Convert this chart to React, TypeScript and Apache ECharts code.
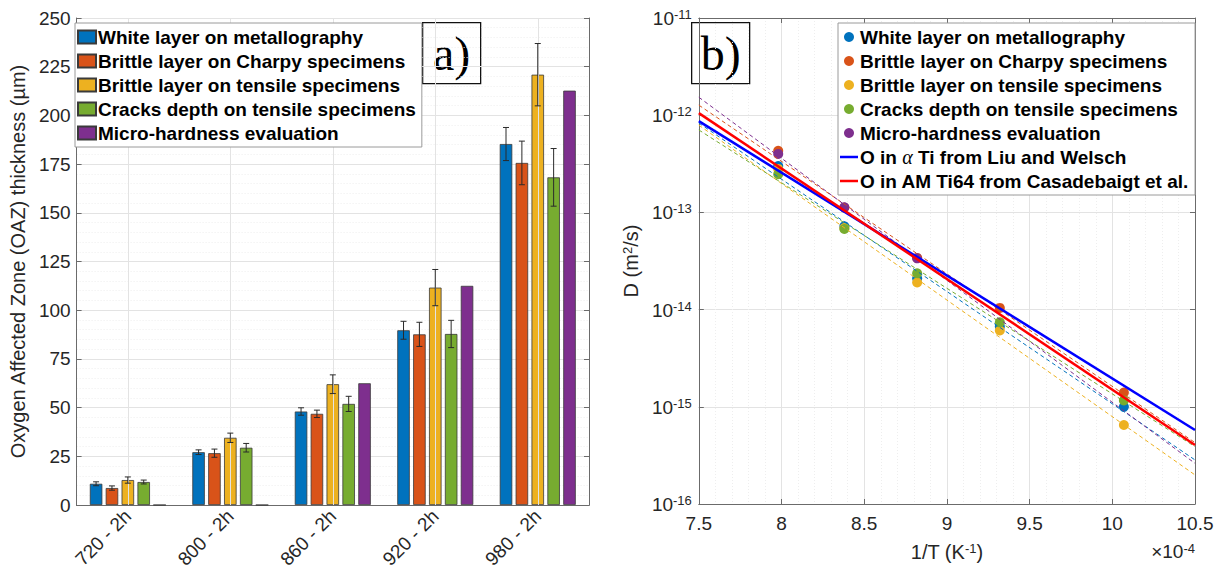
import React, { useEffect, useRef } from "react";
import * as echarts from "echarts";

// ---------- Panel a) data ----------
const categories = ["720 - 2h", "800 - 2h", "860 - 2h", "920 - 2h", "980 - 2h"];
const seriesNames = [
  "White layer on metallography",
  "Brittle layer on Charpy specimens",
  "Brittle layer on tensile specimens",
  "Cracks depth on tensile specimens",
  "Micro-hardness evaluation",
];
const seriesColors = ["#0072BD", "#D95319", "#EDB120", "#77AC30", "#7E2F8E"];
const whiteLayer = [10.9, 27.1, 48.0, 89.7, 185.3];
const whiteLayerErr = [1.0, 1.2, 1.9, 4.6, 8.5];
const charpyLayer = [8.7, 26.6, 46.8, 87.6, 175.6];
const charpyLayerErr = [1.1, 2.1, 1.9, 6.2, 11.2];
const tensileLayer = [12.8, 34.5, 62.0, 111.6, 220.9];
const tensileLayerErr = [1.6, 2.4, 4.8, 9.3, 16.0];
const cracksDepth = [11.8, 29.4, 51.9, 87.8, 168.2];
const cracksDepthErr = [1.0, 2.2, 3.9, 7.0, 14.8];
const microHardness = [0, 0, 62.5, 112.5, 212.7];
const microHardnessErr = [0, 0, 0, 0, 0];
const yTicksA = [0, 250, 25];

// ---------- Panel b) data ----------
const invT = [7.98, 8.38, 8.82, 9.32, 10.07]; // 1/T ×10^-4 K^-1
const dWhite = [3.0e-13, 7.2e-14, 2.1e-14, 6.7e-15, 1.0e-15];
const dCharpy = [4.3e-13, 1.12e-13, 3.4e-14, 1.04e-14, 1.4e-15];
const dTensile = [2.8e-13, 6.9e-14, 1.9e-14, 6.1e-15, 6.5e-16];
const dCracks = [2.47e-13, 6.75e-14, 2.36e-14, 7.4e-15, 1.16e-15];
const invTMicro = [7.98, 8.38, 8.82];
const dMicro = [4.0e-13, 1.13e-13, 3.37e-14];
const fitX = [7.5, 10.5];
const fitWhite = [8.3e-13, 2.84e-16];
const fitCharpy = [1.27e-12, 4.28e-16];
const fitTensile = [7.9e-13, 1.99e-16];
const fitCracks = [7.05e-13, 3.89e-16];
const fitMicro = [1.53e-12, 2.62e-16];
const liuWelsch = [8.7e-13, 5.77e-16];
const casadebaigt = [1.05e-12, 4.05e-16];
const lineNames = ["O in α Ti from Liu and Welsch", "O in AM Ti64 from Casadebaigt et al."];

const FONT = "'Liberation Sans', Arial, Helvetica, sans-serif";
const TXT = "#262626";
const AXIS = "#6b6b6b";
const GRID = "#e3e3e3";
const MINOR = "#eeeeee";

const BAR_W = 12.5;
const BAR_GAP = 0.27;
const BAR_STEP = BAR_W * (1 + BAR_GAP);

function errorSeries(values: number[], errs: number[], idx: number) {
  return {
    type: "custom",
    xAxisIndex: 0,
    yAxisIndex: 0,
    z: 6,
    silent: true,
    encode: { x: 0, y: 1 },
    data: values.map((v, i) => [i, v, errs[i]]),
    renderItem: (params: any, api: any) => {
      const ci = api.value(0);
      const v = api.value(1);
      const e = api.value(2);
      if (!e) return { type: "group", children: [] };
      const x = api.coord([ci, v])[0] + (idx - 2) * BAR_STEP;
      const yt = api.coord([ci, v + e])[1];
      const yb = api.coord([ci, v - e])[1];
      const style = { stroke: "#2a2a2a", lineWidth: 1 };
      return {
        type: "group",
        children: [
          { type: "line", shape: { x1: x, y1: yt, x2: x, y2: yb }, style },
          { type: "line", shape: { x1: x - 3, y1: yt, x2: x + 3, y2: yt }, style },
          { type: "line", shape: { x1: x - 3, y1: yb, x2: x + 3, y2: yb }, style },
        ],
      };
    },
  };
}

function labelBox(x: number, text: string) {
  return {
    type: "group",
    left: x,
    top: 22,
    z: 20,
    children: [
      {
        type: "rect",
        shape: { x: 0, y: 0, width: 58, height: 61 },
        style: { fill: "#fff", stroke: "#111", lineWidth: 1.3 },
      },
      {
        type: "text",
        x: 29,
        y: 31,
        style: {
          text,
          fontFamily: "'Liberation Serif', 'Times New Roman', serif",
          fontSize: 48,
          fill: "#000",
          align: "center",
          verticalAlign: "middle",
        },
      },
    ],
  };
}

function optionA() {
  const vals = [whiteLayer, charpyLayer, tensileLayer, cracksDepth, microHardness];
  const errs = [whiteLayerErr, charpyLayerErr, tensileLayerErr, cracksDepthErr, microHardnessErr];
  const bars = vals.map((v, i) => ({
    type: "bar",
    name: seriesNames[i],
    data: v,
    barWidth: BAR_W,
    barGap: `${BAR_GAP * 100}%`,
    z: 3,
    itemStyle: { color: seriesColors[i], borderColor: "#3a3a3a", borderWidth: 0.8 },
  }));
  const errSeries = vals.map((v, i) => errorSeries(v, errs[i], i));
  const centerLines = {
    type: "line",
    data: [],
    z: 1,
    silent: true,
    markLine: {
      silent: true,
      symbol: "none",
      label: { show: false },
      lineStyle: { color: GRID, width: 1, type: "solid" },
      data: categories.map((c) => ({ xAxis: c })),
    },
  };
  const yAxisBase = {
    type: "value",
    min: yTicksA[0],
    max: yTicksA[1],
    interval: yTicksA[2],
  };
  return {
    animation: false,
    textStyle: { fontFamily: FONT },
    grid: { left: 69, top: 18, width: 520, height: 487 },
    legend: {
      orient: "vertical",
      left: 75,
      top: 23,
      data: seriesNames,
      icon: "rect",
      itemWidth: 18,
      itemHeight: 13,
      itemGap: 4,
      padding: [4, 6, 4, 2],
      backgroundColor: "#fff",
      borderColor: "#9a9a9a",
      borderWidth: 1,
      selectedMode: false,
      z: 20,
      textStyle: { fontFamily: FONT, fontSize: 19, fontWeight: "bold", color: "#000", lineHeight: 20, padding: [0, 0, 0, -3] },
    },
    xAxis: [
      {
        type: "category",
        data: categories,
        position: "bottom",
        axisLine: { lineStyle: { color: AXIS } },
        axisTick: { inside: true, alignWithLabel: true, length: 5, lineStyle: { color: AXIS } },
        axisLabel: { rotate: 45, fontSize: 19, color: TXT, margin: 8, fontFamily: FONT },
        splitLine: { show: false },
      },
      {
        type: "category",
        data: categories,
        position: "top",
        axisLine: { lineStyle: { color: AXIS } },
        axisTick: { inside: true, alignWithLabel: true, length: 5, lineStyle: { color: AXIS } },
        axisLabel: { show: false },
        splitLine: { show: false },
      },
    ],
    yAxis: [
      {
        ...yAxisBase,
        position: "left",
        name: "Oxygen Affected Zone (OAZ) thickness (µm)",
        nameLocation: "middle",
        nameGap: 39,
        nameTextStyle: { fontSize: 20, color: TXT, fontFamily: FONT },
        axisLine: { show: true, lineStyle: { color: AXIS } },
        axisTick: { show: true, inside: true, length: 5, lineStyle: { color: AXIS } },
        axisLabel: { fontSize: 19, color: TXT, margin: 6, fontFamily: FONT },
        splitLine: { show: true, lineStyle: { color: GRID } },
        minorTick: { show: false, splitNumber: 5 },
        minorSplitLine: { show: true, lineStyle: { color: MINOR, type: [1, 2] } },
      },
      {
        ...yAxisBase,
        position: "right",
        axisLine: { show: true, lineStyle: { color: AXIS } },
        axisTick: { show: true, inside: true, length: 5, lineStyle: { color: AXIS } },
        axisLabel: { show: false },
        splitLine: { show: false },
      },
    ],
    graphic: [labelBox(422, "a)")],
    series: [centerLines, ...bars, ...errSeries],
  };
}

function optionB() {
  const pts = [dWhite, dCharpy, dTensile, dCracks];
  const scatters: any[] = pts.map((d, i) => ({
    type: "scatter",
    name: seriesNames[i],
    data: invT.map((x, k) => [x, d[k]]),
    symbol: "circle",
    symbolSize: 10,
    z: 2,
    itemStyle: { color: seriesColors[i], opacity: 1 },
  }));
  scatters.push({
    type: "scatter",
    name: seriesNames[4],
    data: invTMicro.map((x, k) => [x, dMicro[k]]),
    symbol: "circle",
    symbolSize: 10,
    z: 2,
    itemStyle: { color: seriesColors[4], opacity: 1 },
  });
  const fits = [fitWhite, fitCharpy, fitTensile, fitCracks, fitMicro].map((f, i) => ({
    type: "line",
    name: "fit" + i,
    data: fitX.map((x, k) => [x, f[k]]),
    symbol: "none",
    z: 3,
    silent: true,
    lineStyle: { color: seriesColors[i], width: 1, type: [4, 3] },
  }));
  const refs = [liuWelsch, casadebaigt].map((f, i) => ({
    type: "line",
    name: lineNames[i],
    data: fitX.map((x, k) => [x, f[k]]),
    symbol: "none",
    z: 4,
    itemStyle: { color: i === 0 ? "#0000ff" : "#ff0000" },
    lineStyle: { color: i === 0 ? "#0000ff" : "#ff0000", width: 2.5 },
  }));
  const minorVals: number[] = [];
  for (let e = -16; e <= -12; e++) for (let k = 2; k <= 9; k++) minorVals.push(k * Math.pow(10, e));
  const minorGrid = {
    type: "line",
    data: [],
    z: 1,
    silent: true,
    markLine: {
      silent: true,
      symbol: "none",
      label: { show: false },
      lineStyle: { color: MINOR, width: 1, type: [1, 2] },
      data: minorVals.map((v) => ({ yAxis: v })),
    },
  };
  const logLabel = (v: number) => `{b|10}{s|${Math.round(Math.log10(v))}}`;
  const supRich = {
    b: { fontSize: 19, lineHeight: 20, padding: [7, 0, 0, 0], verticalAlign: "bottom", color: TXT, fontFamily: FONT },
    s: { fontSize: 13, lineHeight: 14, verticalAlign: "top", color: TXT, fontFamily: FONT },
  };
  const yBase = { type: "log", logBase: 10, min: 1e-16, max: 1e-11 };
  const xBase = { type: "value", min: 7.5, max: 10.5, interval: 0.5 };
  const lineIcon = "path://M0,0H18V2.5H0Z";
  return {
    animation: false,
    textStyle: { fontFamily: FONT },
    grid: { left: 70, top: 18, width: 512, height: 486 },
    legend: {
      orient: "vertical",
      left: 225,
      top: 23,
      data: [
        ...seriesNames.map((n) => ({ name: n, icon: "circle" })),
        ...lineNames.map((n) => ({ name: n, icon: lineIcon })),
      ],
      itemWidth: 18,
      itemHeight: 10,
      itemGap: 4,
      padding: [4, 6, 4, 2],
      backgroundColor: "#fff",
      borderColor: "#9a9a9a",
      borderWidth: 1,
      selectedMode: false,
      z: 20,
      formatter: (name: string) =>
        name === lineNames[0] ? "O in {a|α} Ti from Liu and Welsch" : name,
      textStyle: {
        fontFamily: FONT,
        fontSize: 19,
        fontWeight: "bold",
        color: "#000",
        lineHeight: 20,
        padding: [0, 0, 0, -3],
        rich: {
          a: { fontFamily: "'Liberation Serif', serif", fontStyle: "italic", fontSize: 20, fontWeight: "normal", color: "#000" },
        },
      },
    },
    xAxis: [
      {
        ...xBase,
        position: "bottom",
        name: "1/T (K{s|-1})",
        nameLocation: "middle",
        nameGap: 38,
        nameTextStyle: {
          fontSize: 20,
          color: TXT,
          fontFamily: FONT,
          rich: {
            s: { fontSize: 13, lineHeight: 14, verticalAlign: "top", color: TXT, fontFamily: FONT },
          },
        },
        axisLine: { lineStyle: { color: AXIS } },
        axisTick: { inside: true, length: 5, lineStyle: { color: AXIS } },
        axisLabel: { fontSize: 19, color: TXT, margin: 10, fontFamily: FONT },
        splitLine: { show: true, lineStyle: { color: GRID } },
        minorTick: { show: false, splitNumber: 5 },
        minorSplitLine: { show: true, lineStyle: { color: MINOR, type: [1, 2] } },
      },
      {
        ...xBase,
        position: "top",
        axisLine: { lineStyle: { color: AXIS } },
        axisTick: { inside: true, length: 5, lineStyle: { color: AXIS } },
        axisLabel: { show: false },
        splitLine: { show: false },
      },
    ],
    yAxis: [
      {
        ...yBase,
        position: "left",
        name: "D (m{s|2}/s)",
        nameLocation: "middle",
        nameGap: 50,
        nameTextStyle: {
          fontSize: 20,
          color: TXT,
          fontFamily: FONT,
          rich: {
            s: { fontSize: 13, lineHeight: 14, verticalAlign: "top", color: TXT, fontFamily: FONT },
          },
        },
        axisLine: { show: true, lineStyle: { color: AXIS } },
        axisTick: { show: true, inside: true, length: 5, lineStyle: { color: AXIS } },
        axisLabel: { formatter: logLabel, rich: supRich, margin: 7 },
        splitLine: { show: true, lineStyle: { color: GRID } },
      },
      {
        ...yBase,
        position: "right",
        axisLine: { show: true, lineStyle: { color: AXIS } },
        axisTick: { show: true, inside: true, length: 5, lineStyle: { color: AXIS } },
        axisLabel: { show: false },
        splitLine: { show: false },
      },
    ],
    graphic: [
      labelBox(78, "b)"),
      {
        type: "text",
        right: 31,
        top: 542,
        style: {
          text: "×10{s|-4}",
          fontFamily: FONT,
          fontSize: 19,
          fill: TXT,
          rich: {
            s: { fontSize: 13, lineHeight: 14, verticalAlign: "top", fill: TXT, fontFamily: FONT },
          },
        },
      },
    ],
    series: [minorGrid, ...scatters, ...fits, ...refs],
  };
}

export default function App() {
  const refA = useRef<HTMLDivElement>(null);
  const refB = useRef<HTMLDivElement>(null);
  useEffect(() => {
    document.body.style.margin = "0";
    const a = echarts.init(refA.current!, null, { renderer: "svg" });
    const b = echarts.init(refB.current!, null, { renderer: "svg" });
    a.setOption(optionA() as any);
    b.setOption(optionB() as any);
    return () => {
      a.dispose();
      b.dispose();
    };
  }, []);
  return (
    <div style={{ position: "relative", width: 1226, height: 575, background: "#fff" }}>
      <div ref={refA} style={{ position: "absolute", left: 0, top: 0, width: 613, height: 575 }} />
      <div ref={refB} style={{ position: "absolute", left: 613, top: 0, width: 613, height: 575 }} />
    </div>
  );
}
